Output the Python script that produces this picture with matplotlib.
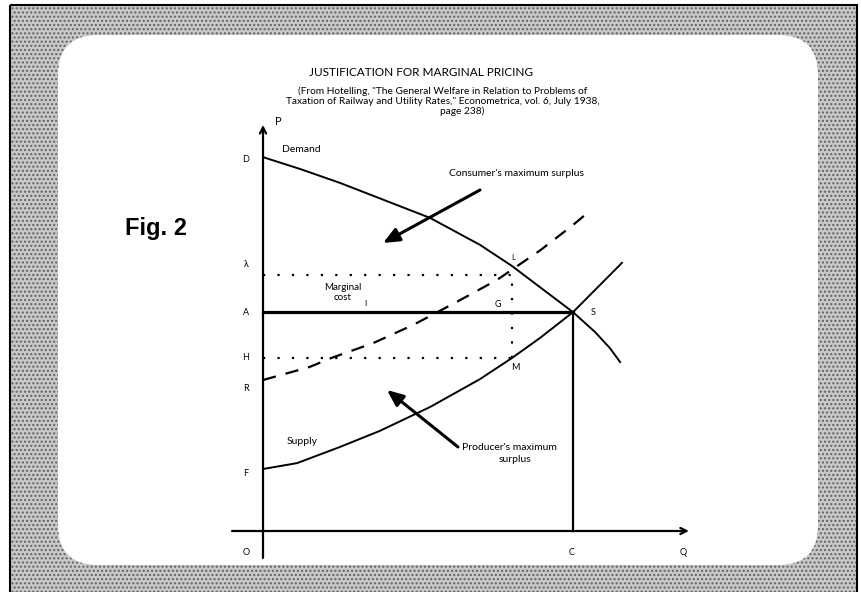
import numpy as np
import matplotlib
matplotlib.use("Agg")
import matplotlib.pyplot as plt
from matplotlib.patches import FancyBboxPatch, Rectangle

# curves, in the chart's own units (Q across, P up)
demand_q = [0, 1.19, 2.48, 5.39, 7.0, 8.03, 10.0, 10.71, 11.19, 11.52]
demand_p = [12.06, 11.68, 11.23, 10.1, 9.23, 8.55, 7.06, 6.42, 5.9, 5.45]
supply_q = [0, 1.1, 2.48, 3.77, 5.39, 7.0, 8.03, 8.94, 10.0, 11.58]
supply_p = [2.0, 2.19, 2.71, 3.23, 4.0, 4.9, 5.58, 6.23, 7.06, 8.65]
mc_q = [0, 1.5, 2.2, 3.55, 4.85, 6.25, 7.55, 8.95, 10.0, 10.5]
mc_p = [4.87, 5.29, 5.58, 6.06, 6.65, 7.39, 8.10, 9.06, 9.87, 10.29]

# price levels / quantities of the guide lines
p_upper = 8.26
p_eq = 7.06
p_lower = 5.58
q_mc = 8.03
q_eq = 10.0

left_labels = ["D", "λ", "A", "H", "R", "F"]
left_label_p = [12.0, 8.6, 7.06, 5.6, 4.6, 1.85]

FONT = "Lato"

fig = plt.figure(figsize=(8.62, 5.92), dpi=100)
fig.patch.set_facecolor("white")

# background axes in pixel units (scanned slide frame)
bg = fig.add_axes([0, 0, 1, 1])
bg.set_xlim(0, 862)
bg.set_ylim(592, 0)
bg.axis("off")

bg.add_patch(Rectangle((10, 5), 847, 600, facecolor="#c8c8c8", edgecolor="none"))
bg.add_patch(Rectangle((10, 5), 847, 600, fill=False, hatch="....",
                       edgecolor="#606060", linewidth=0))
bg.add_patch(Rectangle((10, 5), 847, 600, fill=False, edgecolor="black", linewidth=1.5))
bg.add_patch(FancyBboxPatch((58, 35), 760, 530,
                            boxstyle="round,pad=0,rounding_size=40",
                            facecolor="white", edgecolor="none"))

# titles
bg.text(421, 72, "JUSTIFICATION FOR MARGINAL PRICING", family=FONT, fontsize=8.5,
        ha="center", va="center")
bg.text(443, 91, '(From Hotelling, "The General Welfare in Relation to Problems of',
        family=FONT, fontsize=7.3, ha="center", va="center")
bg.text(443, 101, 'Taxation of Railway and Utility Rates," Econometrica, vol. 6, July 1938,',
        family=FONT, fontsize=7.3, ha="center", va="center")
bg.text(462, 111, "page 238)", family=FONT, fontsize=7.3, ha="center", va="center")

bg.text(125, 228, "Fig. 2", family="Liberation Sans", weight="bold", fontsize=17,
        ha="left", va="center")

# chart axes: origin O sits at pixel (263, 531), 31 px per unit
ax = fig.add_axes([232 / 862, 30 / 592, 465 / 862, 449.5 / 592])
ax.set_xlim(-1, 14)
ax.set_ylim(-1, 13.5)
ax.axis("off")
ax.patch.set_alpha(0)

arrow_kw = dict(arrowstyle="->", lw=1.6, color="black", shrinkA=0, shrinkB=0,
                mutation_scale=11)
ax.annotate("", xy=(0, 13.1), xytext=(0, -0.87), arrowprops=arrow_kw)
ax.annotate("", xy=(13.74, 0), xytext=(-1.0, 0), arrowprops=arrow_kw)

ax.plot(demand_q, demand_p, color="black", lw=1.4, solid_joinstyle="round")
ax.plot(supply_q, supply_p, color="black", lw=1.4, solid_joinstyle="round")
ax.plot(mc_q, mc_p, color="black", lw=1.6, linestyle=(0, (6, 4.5)))

ax.plot([0, q_eq], [p_eq, p_eq], color="black", lw=2.3)
ax.plot([q_eq, q_eq], [0, p_eq], color="black", lw=1.6)
dots = dict(color="black", lw=1.6, linestyle=(0, (1, 5.5)))
ax.plot([0, q_mc], [p_upper, p_upper], **dots)
ax.plot([0, q_mc], [p_lower, p_lower], **dots)
ax.plot([q_mc, q_mc], [p_lower, p_upper], **dots)

# axis letters
for lab, p in zip(left_labels, left_label_p):
    ax.text(-0.55, p, lab, family=FONT, fontsize=6.5, ha="center", va="center")
ax.text(0.5, 13.2, "P", family=FONT, fontsize=8, ha="center", va="center")
ax.text(-0.55, -0.7, "O", family=FONT, fontsize=6.5, ha="center", va="center")
ax.text(q_eq - 0.05, -0.7, "C", family=FONT, fontsize=6.5, ha="center", va="center")
ax.text(13.55, -0.7, "Q", family=FONT, fontsize=6.5, ha="center", va="center")
ax.text(q_eq + 0.65, p_eq, "S", family=FONT, fontsize=6.5, ha="center", va="center")
ax.text(q_mc - 0.45, p_eq + 0.25, "G", family=FONT, fontsize=6.5, ha="center", va="center")
ax.text(q_mc + 0.05, p_upper + 0.55, "L", family=FONT, fontsize=5.5, ha="center", va="center")
ax.text(q_mc + 0.1, p_lower - 0.3, "M", family=FONT, fontsize=6.5, ha="center", va="center")

# annotation text
bg.text(282, 150, "Demand", family=FONT, fontsize=7.5, ha="left", va="center")
bg.text(449, 173, "Consumer's maximum surplus", family=FONT, fontsize=7.5,
        ha="left", va="center")
bg.text(343, 288, "Marginal", family=FONT, fontsize=7, ha="center", va="center")
bg.text(343, 298, "cost", family=FONT, fontsize=7, ha="center", va="center")
bg.text(365, 303, "I", family=FONT, fontsize=6, ha="center", va="center")
bg.text(287, 442, "Supply", family=FONT, fontsize=7.5, ha="left", va="center")
bg.text(462, 448, "Producer's maximum", family=FONT, fontsize=7.5, ha="left", va="center")
bg.text(515, 459, "surplus", family=FONT, fontsize=7.5, ha="center", va="center")

pointer = dict(arrowstyle="-|>,head_length=0.7,head_width=0.3", lw=2.2, color="black",
               shrinkA=0, shrinkB=0, mutation_scale=14)
bg.annotate("", xy=(383, 243), xytext=(480, 190), arrowprops=pointer)
bg.annotate("", xy=(387, 390), xytext=(458, 447), arrowprops=pointer)

fig.savefig("out.png", dpi=100)
